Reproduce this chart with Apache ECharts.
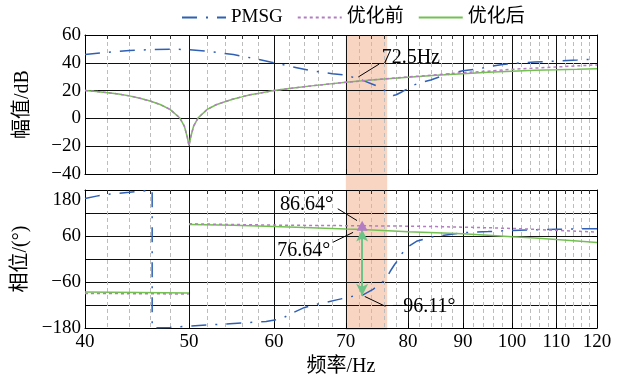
<!DOCTYPE html>
<html><head><meta charset="utf-8">
<script src="https://cdn.jsdelivr.net/npm/echarts@6/dist/echarts.min.js"></script>
<style>html,body{margin:0;padding:0;background:#fff}#c{width:624px;height:378px}</style>
</head><body><div id="c"></div>
<script>
// ---- tick values ----
const majorTicks = [40, 50, 60, 70, 80, 90, 100, 110, 120];
const minorTicks = [42,44,46,48,52,54,56,58,62,64,66,68,72,74,76,78,82,84,86,88,92,94,96,98,102,104,106,108,112,114,116,118];
const magTicks = [-40, -20, 0, 20, 40, 60];
const phaseLabelTicks = [-180, -60, 60, 180];

// ---- magnitude (dB) ----
const magFreq = [40,41,42,43,44,45,46,47,48,49,49.5,49.8,50,50.2,50.5,51,52,53,54,55,56,57,58,60,62,65,70,72.5,75,80,85,90,95,100,105,110,115,120];
const magAfter = [20,19.3,18.5,17.5,16.2,14.5,12.5,10,6.5,0.5,-5.5,-13,-19.5,-13,-5.5,0.5,6.5,9.8,12,14,15.5,17,18,20,21.5,23.4,26,27,28,29.6,31,32.2,33.2,34,34.6,35,35.4,35.8];
const magBefore = [20,19.3,18.5,17.5,16.2,14.5,12.5,10,6.5,0.5,-5.5,-13,-19.5,-13,-5.5,0.5,6.5,9.8,12,14,15.5,17,18,20,21.5,23.4,26,27,28,29.8,31.4,32.9,34,35.3,36.2,37,37.8,38.5];
const pmsgMagFreq = [40,42,44,46,48,50,52,55,58,60,63,65,68,70,71.6,72.5,75,76,77,77.5,78,79,80,81,82,84,86,88,90,93,95,98,100,105,110,115,120];
const pmsgMag = [46,47.5,48.8,49.5,49.8,49.5,48.3,46,42.5,40,36.5,34.3,32.2,31.2,28.8,27.5,23,20.5,17.3,16.5,17,19.2,21.5,24,25.5,27.6,30.5,32.4,34.3,35.5,37.2,38.7,39.5,40.5,41.3,42,42.7];

// ---- phase (deg) ----
const phFreq = [40,45,49.99,50,50.01,55,60,65,70,72.5,75,80,85,90,95,100,105,110,115,120];
const phAfter = [-86,-87.5,-89,null,90,88,85,81.5,78,76.64,75,71,68.5,66,62,58.3,55,50.6,47,43];
const phBefore = [-90,-90.5,-91.5,null,92,90,88.5,87.5,87,86.64,86.3,85.7,84.5,83,81.5,79.7,77.3,74.6,72.5,70.3];
const pmsgPhFreq = [40,41,42,44,46.2,46.2,48,50,53,56,59,61,62.4,64,65.5,67.2,68.8,71.1,72.5,74.2,75.3,76.3,77,77.7,78.3,79,80,81.6,84,87.5,90,95,100,105,110,115,120];
const pmsgPh = [158,164,169,174,180,-180,-178.5,-175,-171,-167,-163,-156,-141,-127,-119,-113,-106,-97,-95,-79,-66,-52,-32,-15,-2,15,32,47,57,64,68.5,71.5,74.5,76,77.5,78.5,79.2];

// ---- annotations ----
const bandRange = [70, 76.5];
const crossFreq = 72.5;
const phBeforeAt = 86.64, phAfterAt = 76.64, phPmsgAt = -96.11;

const F = '"Liberation Serif","Times New Roman","Noto Sans CJK SC",serif';
const zip = (xs, ys) => xs.map((x, i) => [x, ys[i]]);
const minus = s => String(s).replace('-', '\u2212');

const C_BLUE = '#2f60b4', C_PURP = '#b47cc2', C_GREEN = '#74c152', C_ARROW = '#6cc488';

function xMain(gi, showLabel) {
  return {type: 'log', logBase: 10, gridIndex: gi, min: 40, max: 120, position: 'bottom',
    axisLine: {show: true, onZero: false, lineStyle: {color: '#000', width: 1}},
    axisTick: {show: true, inside: true, length: 5, customValues: majorTicks, lineStyle: {color: '#000'}},
    axisLabel: {show: showLabel, customValues: majorTicks, margin: 5, color: '#000', fontFamily: F, fontSize: 19,
      formatter: v => String(Math.round(v))},
    splitLine: {show: true, lineStyle: {color: '#111', width: 1}}};
}
function xMinor(gi) {
  return {type: 'log', logBase: 10, gridIndex: gi, min: 40, max: 120, position: 'top',
    axisLine: {show: true, onZero: false, lineStyle: {color: '#000', width: 1}},
    axisTick: {show: true, inside: true, length: 4, customValues: minorTicks, lineStyle: {color: '#333'}},
    axisLabel: {show: false},
    splitLine: {show: true, lineStyle: {color: '#bdbdbd', width: 1, type: [4, 3]}}};
}
function yLeft(gi, min, max, interval, fmt) {
  return {type: 'value', gridIndex: gi, min, max, interval, position: 'left',
    axisLine: {show: true, onZero: false, lineStyle: {color: '#000'}},
    axisTick: {show: true, inside: true, length: 5, lineStyle: {color: '#000'}},
    axisLabel: {margin: 4, color: '#000', fontFamily: F, fontSize: 19, formatter: fmt,
      rich: {top: {fontFamily: F, fontSize: 19, color: '#000', padding: [20, 0, 0, 0]}}},
    splitLine: {show: true, lineStyle: {color: '#111', width: 1}},
    nameLocation: 'middle', nameGap: 52, nameRotate: 90,
    nameTextStyle: {fontFamily: F, fontSize: 20, color: '#000'}};
}
function yRight(gi, min, max, interval) {
  return {type: 'value', gridIndex: gi, min, max, interval, position: 'right',
    axisLine: {show: true, onZero: false, lineStyle: {color: '#000'}},
    axisTick: {show: true, inside: true, length: 5, lineStyle: {color: '#000'}},
    axisLabel: {show: false}, splitLine: {show: false}};
}

const yMag = yLeft(0, -40, 60, 20, v => minus(v));
yMag.name = '幅值/dB';
const yPh = yLeft(1, -180, 180, 60, v => {
  if (phaseLabelTicks.indexOf(v) < 0) return '';
  if (v === 180) return '{top|180}';
  return minus(v);
});
yPh.name = '相位/(°)';

const xPhMain = xMain(1, true);
xPhMain.name = '频率/Hz';
xPhMain.nameLocation = 'middle';
xPhMain.nameGap = 29;
xPhMain.nameTextStyle = {fontFamily: F, fontSize: 20, color: '#000'};

const annLabel = (coord, text, pos) => ({coord, symbol: 'circle', symbolSize: 0,
  label: {show: true, position: pos, distance: 0, formatter: text, color: '#000', fontFamily: F, fontSize: 20}});
const leader = (a, b) => [{coord: a}, {coord: b}];

const lineBase = {type: 'line', showSymbol: false, symbol: 'none', silent: true};

const option = {
  animation: false,
  backgroundColor: '#fff',
  legend: {top: 3, left: 176, itemWidth: 44, itemHeight: 12, itemGap: 14,
    itemStyle: {opacity: 0},
    textStyle: {fontFamily: F, fontSize: 19, color: '#000'},
    data: ['PMSG', '优化前', '优化后']},
  grid: [
    {left: 85, right: 27, top: 35, height: 139},
    {left: 85, right: 27, top: 190, height: 140},
    {left: 85, right: 27, top: 35, height: 295}
  ],
  xAxis: [xMain(0, false), xMinor(0), xPhMain, xMinor(1),
    {type: 'log', logBase: 10, gridIndex: 2, min: 40, max: 120, show: false}],
  yAxis: [yMag, yRight(0, -40, 60, 20), yPh, yRight(1, -180, 180, 60),
    {type: 'value', gridIndex: 2, min: 0, max: 1, show: false}],
  series: [
    {type: 'line', name: 'band', xAxisIndex: 4, yAxisIndex: 4, data: [], z: -1, zlevel: 0, silent: true,
      markArea: {silent: true, z: -1, itemStyle: {color: '#f8d5c3'}, data: [[{xAxis: bandRange[0]}, {xAxis: bandRange[1]}]]}},
    Object.assign({}, lineBase, {name: 'PMSG', xAxisIndex: 0, yAxisIndex: 0, z: 3, data: zip(pmsgMagFreq, pmsgMag),
      lineStyle: {color: C_BLUE, width: 1.5, type: [15, 9, 2, 9]}, itemStyle: {color: C_BLUE}}),
    Object.assign({}, lineBase, {name: '优化后', xAxisIndex: 0, yAxisIndex: 0, z: 3, data: zip(magFreq, magAfter),
      lineStyle: {color: C_GREEN, width: 1.5}, itemStyle: {color: C_GREEN},
      markPoint: {silent: true, data: [annLabel([75.6, 43.5], '72.5Hz', 'right')]},
      markLine: {silent: true, symbol: ['none', 'none'], label: {show: false}, lineStyle: {color: '#000', width: 1, type: 'solid'},
        data: [leader([71.9, 29.8], [75.2, 39.1])]}}),
    Object.assign({}, lineBase, {name: '优化前', xAxisIndex: 0, yAxisIndex: 0, z: 4, data: zip(magFreq, magBefore),
      lineStyle: {color: C_PURP, width: 1.5, type: [3, 3]}, itemStyle: {color: C_PURP}}),
    Object.assign({}, lineBase, {name: 'PMSG', xAxisIndex: 2, yAxisIndex: 2, z: 3, data: zip(pmsgPhFreq, pmsgPh),
      lineStyle: {color: C_BLUE, width: 1.5, type: [15, 9, 2, 9]}, itemStyle: {color: C_BLUE}}),
    Object.assign({}, lineBase, {name: '优化后', xAxisIndex: 2, yAxisIndex: 2, z: 3, data: zip(phFreq, phAfter), connectNulls: false,
      lineStyle: {color: C_GREEN, width: 1.5}, itemStyle: {color: C_GREEN},
      markPoint: {silent: true, data: [
        annLabel([68.1, 141.4], phBeforeAt.toFixed(2) + '°', 'left'),
        annLabel([67.7, 20.6], phAfterAt.toFixed(2) + '°', 'left'),
        annLabel([77.3, -123.4], minus(phPmsgAt.toFixed(2)) + '°', 'right')
      ]},
      markLine: {silent: true, symbol: ['none', 'none'], label: {show: false}, lineStyle: {color: '#000', width: 1, type: 'solid'},
        data: [
          leader([68.8, 131.1], [71.7, 100.3]),
          leader([68.1, 43.7], [71.1, 69.4]),
          leader([72.9, -97.7], [76.2, -123.4]),
          [{coord: [crossFreq, phAfterAt], symbol: 'arrow', symbolSize: [9, 12], lineStyle: {color: C_ARROW, width: 2}},
           {coord: [crossFreq, phPmsgAt], symbol: 'arrow', symbolSize: [9, 12], lineStyle: {color: C_ARROW, width: 2}}]
        ]}}),
    Object.assign({}, lineBase, {name: '优化前', xAxisIndex: 2, yAxisIndex: 2, z: 4, data: zip(phFreq, phBefore), connectNulls: false,
      lineStyle: {color: C_PURP, width: 1.5, type: [3, 3]}, itemStyle: {color: C_PURP},
      markPoint: {silent: true, data: [{coord: [crossFreq, phBeforeAt], symbol: 'triangle', symbolSize: [11, 10],
        itemStyle: {color: C_PURP}, label: {show: false}}]}})
  ]
};
const chart = echarts.init(document.getElementById('c'), null, {renderer: 'canvas'});
chart.setOption(option);
</script></body></html>
